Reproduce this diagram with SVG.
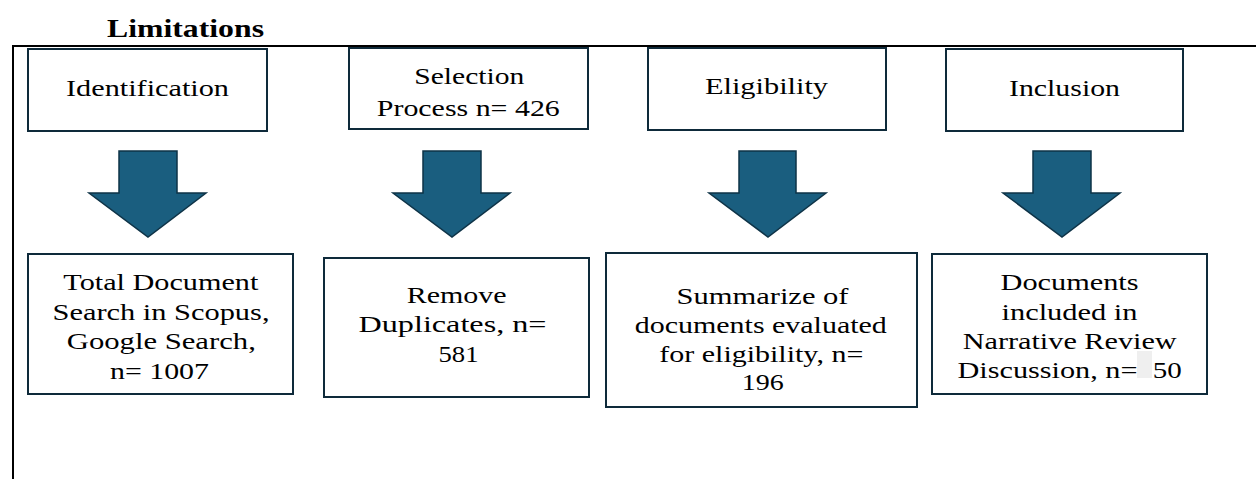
<svg xmlns="http://www.w3.org/2000/svg" width="1256" height="479" viewBox="0 0 1256 479">
<style>
.box{fill:#ffffff;stroke:#0e2a3a;stroke-width:2}
.arr{fill:#1a5e7f;stroke:#0e3347;stroke-width:1.5;stroke-linejoin:miter}
.t{font-family:'Liberation Serif','Times New Roman',serif;font-size:24px;fill:#000;text-anchor:middle}
.h{font-family:'Liberation Serif','Times New Roman',serif;font-size:26px;font-weight:bold;fill:#000;text-anchor:middle}
.frame{fill:none;stroke:#000;stroke-width:2}
</style>
<rect width="1256" height="479" fill="#ffffff"/>
<text class="h" x="185.5" y="37" textLength="157" lengthAdjust="spacingAndGlyphs">Limitations</text>
<path class="frame" d="M13 479 V46 H1256"/>

<g id="identification">
<rect class="box" x="28" y="49" width="239" height="82"/>
<text class="t" x="147.5" y="96" textLength="163" lengthAdjust="spacingAndGlyphs">Identification</text>
</g>
<g id="selection">
<rect class="box" x="349" y="48" width="239" height="81"/>
<text class="t" x="469.3" y="84" textLength="110" lengthAdjust="spacingAndGlyphs">Selection</text>
<text class="t" x="468.3" y="116" textLength="183" lengthAdjust="spacingAndGlyphs">Process n= 426</text>
</g>
<g id="eligibility">
<rect class="box" x="648" y="48" width="238" height="82"/>
<text class="t" x="766.5" y="94" textLength="123" lengthAdjust="spacingAndGlyphs">Eligibility</text>
</g>
<g id="inclusion">
<rect class="box" x="946" y="49" width="237" height="82"/>
<text class="t" x="1064.5" y="96" textLength="111" lengthAdjust="spacingAndGlyphs">Inclusion</text>
</g>

<g id="total">
<rect class="box" x="28" y="254" width="265" height="140"/>
<text class="t" x="160.8" y="290" textLength="195" lengthAdjust="spacingAndGlyphs">Total Document</text>
<text class="t" x="161" y="320" textLength="217" lengthAdjust="spacingAndGlyphs">Search in Scopus,</text>
<text class="t" x="161.3" y="349" textLength="189" lengthAdjust="spacingAndGlyphs">Google Search,</text>
<text class="t" x="159.5" y="379" textLength="99" lengthAdjust="spacingAndGlyphs">n= 1007</text>
</g>
<g id="remove">
<rect class="box" x="324" y="258" width="265" height="139"/>
<text class="t" x="456.7" y="303" textLength="100" lengthAdjust="spacingAndGlyphs">Remove</text>
<text class="t" x="452.5" y="332" textLength="188" lengthAdjust="spacingAndGlyphs">Duplicates, n=</text>
<text class="t" x="458.5" y="362" textLength="40" lengthAdjust="spacingAndGlyphs">581</text>
</g>
<g id="summarize">
<rect class="box" x="606" y="253" width="311" height="154"/>
<text class="t" x="762.5" y="304" textLength="172" lengthAdjust="spacingAndGlyphs">Summarize of</text>
<text class="t" x="760.8" y="333" textLength="252" lengthAdjust="spacingAndGlyphs">documents evaluated</text>
<text class="t" x="761.3" y="362" textLength="204" lengthAdjust="spacingAndGlyphs">for eligibility, n=</text>
<text class="t" x="762.8" y="390" textLength="42" lengthAdjust="spacingAndGlyphs">196</text>
</g>
<g id="documents">
<rect class="box" x="932" y="254" width="275" height="140"/>
<rect x="1137" y="351" width="15" height="27" fill="#efefef"/>
<text class="t" x="1069.5" y="290" textLength="138" lengthAdjust="spacingAndGlyphs">Documents</text>
<text class="t" x="1069.5" y="320" textLength="136" lengthAdjust="spacingAndGlyphs">included in</text>
<text class="t" x="1069.7" y="349" textLength="214" lengthAdjust="spacingAndGlyphs">Narrative Review</text>
<text class="t" x="1047.5" y="378" textLength="180" lengthAdjust="spacingAndGlyphs">Discussion, n=</text>
<text class="t" x="1167.3" y="378" textLength="29" lengthAdjust="spacingAndGlyphs">50</text>
</g>

<g id="connectors">
<path class="arr" d="M119 151 H177 V193 H206 L148 237 L89 193 H119 Z"/>
<path class="arr" d="M423 151 H481 V193 H510 L452 237 L393 193 H423 Z"/>
<path class="arr" d="M739 151 H796 V193 H826 L768 237 L709 193 H739 Z"/>
<path class="arr" d="M1033 151 H1091 V193 H1120 L1062 237 L1003 193 H1033 Z"/>
</g>
</svg>
